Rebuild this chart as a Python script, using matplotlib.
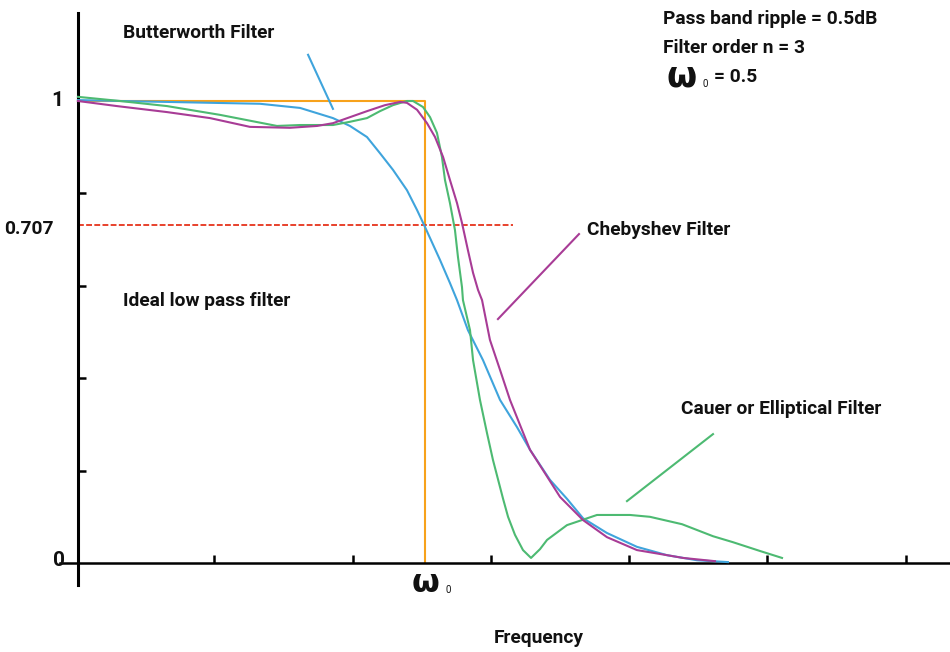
import matplotlib
matplotlib.use("Agg")
import matplotlib.pyplot as plt

# ---------------- data (frequency in tick units, gain) ----------------
butter_freq = [0.014, 0.318, 0.658, 0.991, 1.330, 1.620, 1.858, 1.981, 2.104, 2.198,
               2.292, 2.393, 2.466, 2.524, 2.632, 2.704, 2.755, 2.834, 2.943, 3.066,
               3.189, 3.283, 3.427, 3.550, 3.666, 3.839, 4.056, 4.273, 4.490, 4.714]
butter_gain = [1.002, 1.000, 0.998, 0.996, 0.994, 0.985, 0.963, 0.946, 0.922, 0.887,
               0.851, 0.807, 0.764, 0.727, 0.656, 0.606, 0.569, 0.504, 0.439, 0.353,
               0.294, 0.245, 0.180, 0.139, 0.097, 0.065, 0.035, 0.017, 0.006, 0.002]

cauer_freq = [0.014, 0.318, 0.658, 1.041, 1.453, 1.620, 1.858, 1.981, 2.104, 2.198,
              2.292, 2.393, 2.437, 2.509, 2.560, 2.610, 2.646, 2.668, 2.704, 2.740,
              2.762, 2.791, 2.798, 2.849, 2.871, 2.921, 2.972, 3.015, 3.088, 3.124,
              3.174, 3.232, 3.290, 3.355, 3.406, 3.550, 3.767, 4.006, 4.150, 4.382,
              4.606, 4.751, 4.946, 5.105]
cauer_gain = [1.009, 1.000, 0.989, 0.970, 0.946, 0.948, 0.948, 0.955, 0.963, 0.978,
              0.991, 1.000, 1.000, 0.987, 0.965, 0.931, 0.879, 0.829, 0.779, 0.721,
              0.662, 0.597, 0.569, 0.504, 0.439, 0.353, 0.281, 0.223, 0.139, 0.100,
              0.061, 0.028, 0.011, 0.030, 0.050, 0.082, 0.104, 0.104, 0.100, 0.084,
              0.058, 0.045, 0.026, 0.011]

cheby_freq = [0.014, 0.296, 0.658, 0.969, 1.258, 1.547, 1.743, 1.858, 1.981, 2.104,
              2.234, 2.343, 2.393, 2.466, 2.538, 2.596, 2.654, 2.704, 2.755, 2.791,
              2.834, 2.871, 2.907, 2.936, 2.993, 3.066, 3.138, 3.225, 3.283, 3.377,
              3.500, 3.666, 3.839, 4.056, 4.273, 4.389, 4.620]
cheby_gain = [1.000, 0.989, 0.976, 0.963, 0.944, 0.942, 0.946, 0.952, 0.965, 0.978,
              0.991, 0.998, 0.996, 0.981, 0.952, 0.922, 0.879, 0.829, 0.779, 0.736,
              0.677, 0.628, 0.591, 0.569, 0.483, 0.418, 0.353, 0.288, 0.245, 0.201,
              0.143, 0.093, 0.056, 0.028, 0.017, 0.011, 0.004]

ideal_freq = [0.014, 2.527, 2.527]
ideal_gain = [1.0, 1.0, 0.0]

half_power_freq = [0.014, 3.160]
half_power_level = 0.731

x_ticks = [1, 2, 3, 4, 5, 6]
y_ticks = [0.2, 0.4, 0.6, 0.8]

# leader lines (start, end)
butter_leader = ([1.678, 1.858], [1.100, 0.983])
cheby_leader = ([3.637, 3.051], [0.712, 0.528])
cauer_leader = ([4.606, 3.984], [0.279, 0.134])

# ---------------- style ----------------
C_BLUE = "#3fa4dc"
C_GREEN = "#4dba72"
C_MAG = "#a83c96"
C_ORANGE = "#f7a21b"
C_RED = "#e8412c"

FONT = ["Roboto", "DejaVu Sans"]

fig = plt.figure(figsize=(9.5, 6.52), dpi=100)
ax = fig.add_axes([0, 0, 1, 1])
ax.set_xlim(-0.5495, 6.3196)
ax.set_ylim(-0.1926, 1.2186)

for s in ("top", "right"):
    ax.spines[s].set_visible(False)
ax.spines["left"].set_position(("data", 0.014))
ax.spines["left"].set_bounds(-0.048, 1.19)
ax.spines["left"].set_linewidth(2.2)
ax.spines["bottom"].set_position(("data", 0.0))
ax.spines["bottom"].set_bounds(-0.116, 6.32)
ax.spines["bottom"].set_linewidth(1.8)

ax.set_xticks(x_ticks)
ax.set_yticks(y_ticks)
ax.tick_params(axis="both", direction="in", length=6, width=1.8,
               labelbottom=False, labelleft=False)

lw = 1.5
ax.plot(ideal_freq, ideal_gain, color=C_ORANGE, lw=lw, zorder=2)
ax.plot(half_power_freq, [half_power_level] * 2, color=C_RED, lw=1.4,
        dashes=(3, 1.2), zorder=2)
ax.plot(butter_freq, butter_gain, color=C_BLUE, lw=lw, zorder=3)
ax.plot(cauer_freq, cauer_gain, color=C_GREEN, lw=lw, zorder=3)
ax.plot(cheby_freq, cheby_gain, color=C_MAG, lw=lw, zorder=4)

ax.plot(*butter_leader, color=C_BLUE, lw=lw)
ax.plot(*cheby_leader, color=C_MAG, lw=lw)
ax.plot(*cauer_leader, color=C_GREEN, lw=lw)

tk = dict(family=FONT, fontsize=13.8, fontweight="bold", color="#111111")

# axis value labels
ax.text(-0.137, 1.0, "1", ha="center", va="center",
        **{**tk, "fontsize": 15})
ax.text(-0.340, 0.723, "0.707", ha="center", va="center", **tk)
ax.text(-0.125, 0.006, "0", ha="center", va="center",
        **{**tk, "fontsize": 15})

# curve labels
ax.text(0.340, 1.147, "Butterworth Filter", ha="left", va="center", **tk)
ax.text(0.340, 0.567, "Ideal low pass filter", ha="left", va="center", **tk)
ax.text(3.695, 0.721, "Chebyshev Filter", ha="left", va="center", **tk)
ax.text(4.375, 0.333, "Cauer or Elliptical Filter", ha="left", va="center", **tk)

# parameter box
ax.text(4.244, 1.177, "Pass band ripple = 0.5dB", ha="left", va="center", **tk)
ax.text(4.244, 1.115, "Filter order n = 3", ha="left", va="center", **tk)
ax.text(4.27, 1.052, "ω", ha="left", va="center", family="DejaVu Sans",
        fontweight="bold", fontsize=25, color="#111111")
ax.text(4.53, 1.036, "0", ha="left", va="center", family=FONT,
        fontsize=7, color="#111111")
ax.text(4.612, 1.052, "= 0.5", ha="left", va="center", **tk)

# omega_0 under the axis
ax.text(2.43, -0.045, "ω", ha="left", va="center", family="DejaVu Sans",
        fontweight="bold", fontsize=23, color="#111111")
ax.text(2.67, -0.058, "0", ha="left", va="center", family=FONT,
        fontsize=7, color="#111111")

ax.text(3.022, -0.162, "Frequency", ha="left", va="center", **tk)

fig.savefig("out.png", dpi=100)
